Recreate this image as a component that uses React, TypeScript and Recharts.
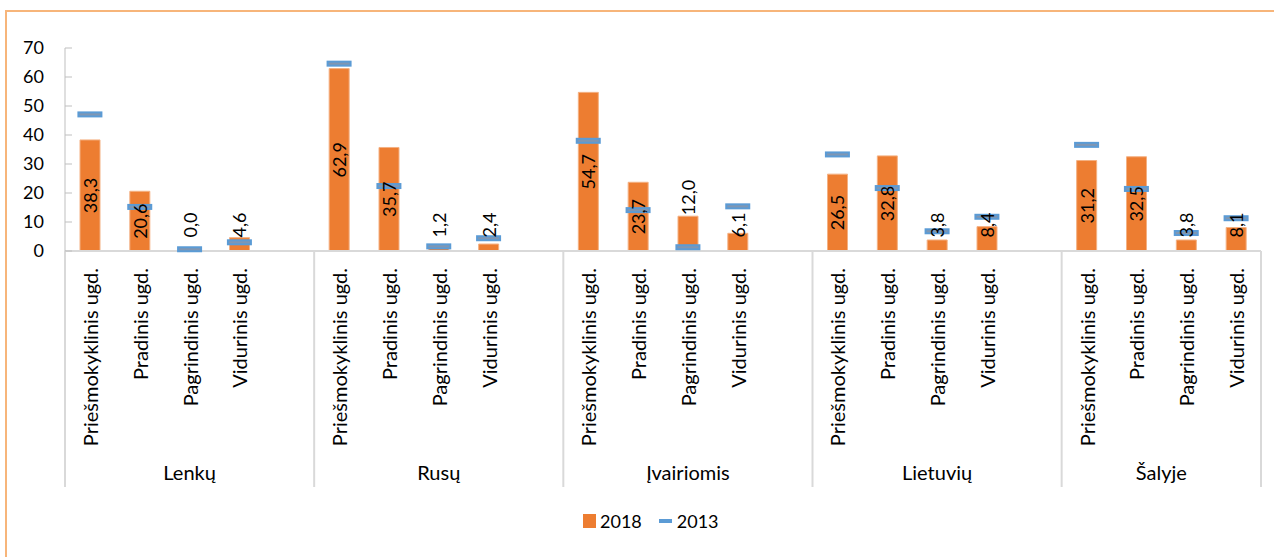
import React from 'react';
import { ComposedChart, Bar, Line, XAxis, YAxis, Legend } from 'recharts';

// ---- data ----
const groups = ['Lenkų', 'Rusų', 'Įvairiomis', 'Lietuvių', 'Šalyje'];
const levels = ['Priešmokyklinis ugd.', 'Pradinis ugd.', 'Pagrindinis ugd.', 'Vidurinis ugd.'];
const yTicks = [0, 10, 20, 30, 40, 50, 60, 70];

const lenku2018 = [38.3, 20.6, 0.0, 4.6];
const rusu2018 = [62.9, 35.7, 1.2, 2.4];
const ivairiomis2018 = [54.7, 23.7, 12.0, 6.1];
const lietuviu2018 = [26.5, 32.8, 3.8, 8.4];
const salyje2018 = [31.2, 32.5, 3.8, 8.1];

const lenku2013 = [47.1, 15.2, 0.6, 3.0];
const rusu2013 = [64.6, 22.4, 1.6, 4.4];
const ivairiomis2013 = [38.0, 14.1, 1.3, 15.4];
const lietuviu2013 = [33.3, 21.7, 6.8, 11.8];
const salyje2013 = [36.6, 21.4, 6.2, 11.3];

const series2018 = [lenku2018, rusu2018, ivairiomis2018, lietuviu2018, salyje2018];
const series2013 = [lenku2013, rusu2013, ivairiomis2013, lietuviu2013, salyje2013];

type Row = { key: string; slot: number; group: number; v2018: number | null; v2013: number | null };
const rows: Row[] = [];
groups.forEach((g, gi) => {
  levels.forEach((l, li) => {
    rows.push({ key: `${g}|${l}`, slot: li, group: gi, v2018: series2018[gi][li], v2013: series2013[gi][li] });
  });
  if (gi < groups.length - 1) rows.push({ key: `${g}|gap`, slot: 4, group: gi, v2018: null, v2013: null });
});

// ---- layout / style ----
const W = 1274;
const H = 557;
const TOP = 48;
const XAXIS_H = 306;
const PLOT_LEFT = 65;
const PLOT_RIGHT = 1261;
const PLOT_BOTTOM = H - XAXIS_H;
const SLOT = (PLOT_RIGHT - PLOT_LEFT) / rows.length;
const FONT = 'Lato, "Open Sans", sans-serif';
const ORANGE = '#ED7D31';
const BLUE = '#5B9BD5';
const GRID = '#D9D9D9';

const fmt = (v: number) => v.toFixed(1).replace('.', ',');

const YTick = (props: any) => {
  const { x, y, payload } = props;
  return (
    <g>
      <line x1={x + 21} x2={x + 28} y1={y} y2={y} stroke="#BFBFBF" strokeWidth={1} />
      <text x={x} y={y} dy="0.35em" textAnchor="end" fontSize={18} fontFamily={FONT} fill="#000">
        {payload.value}
      </text>
    </g>
  );
};

const XTick = (props: any) => {
  const { x, y, payload } = props;
  const idx: number = payload?.index ?? props.index ?? 0;
  const row = rows[idx];
  if (!row) return null;
  const els: React.ReactNode[] = [];
  if (row.slot < 4) {
    const ty = y + 17;
    els.push(
      <text
        key="t"
        x={x}
        y={ty}
        transform={`rotate(-90, ${x}, ${ty})`}
        textAnchor="end"
        dominantBaseline="central"
        fontSize={20}
        fontFamily={FONT}
        fill="#000"
      >
        {levels[row.slot]}
      </text>
    );
  }
  if (row.slot === 0) {
    const left = x - SLOT / 2;
    const n = row.group < groups.length - 1 ? 5 : 4;
    els.push(<line key="d" x1={left} x2={left} y1={y} y2={y + 236} stroke={GRID} strokeWidth={2} />);
    els.push(
      <text key="g" x={left + (n * SLOT) / 2} y={y + 229} textAnchor="middle" fontSize={20} fontFamily={FONT} fill="#000">
        {groups[row.group]}
      </text>
    );
  }
  if (idx === rows.length - 1) {
    const right = x + SLOT / 2;
    els.push(<line key="r" x1={right} x2={right} y1={y} y2={y + 236} stroke={GRID} strokeWidth={2} />);
  }
  return <g>{els}</g>;
};

// data label for the 2018 bars, drawn at each bar's top point
const BarLabelDot = (props: any) => {
  const { cx, cy, value } = props;
  if (value === null || value === undefined || cx == null || cy == null) return <g />;
  const text = fmt(Number(value));
  const digits = text.replace(',', '').length;
  const L = digits * 10.4 + 4.2;
  const base = PLOT_BOTTOM;
  const height = base - cy;
  let ly: number;
  if (height >= L + 6) ly = cy + height / 2;
  else if (cy < base - 30) ly = cy - L / 2 - 1;
  else ly = Math.min(cy + height / 2, base - 26);
  return (
    <text
      x={cx}
      y={ly}
      transform={`rotate(-90, ${cx}, ${ly})`}
      textAnchor="middle"
      dominantBaseline="central"
      fontSize={18}
      fontFamily={FONT}
      fill="#000"
    >
      {text}
    </text>
  );
};

const Dash = (props: any) => {
  const { cx, cy, value } = props;
  if (value === null || value === undefined || cx == null || cy == null) return <g />;
  return <rect x={cx - 11.5} y={cy - 2} width={23} height={4} fill="#7F96B3" stroke={BLUE} strokeWidth={2} />;
};

const LegendContent = () => (
  <div style={{ display: 'flex', alignItems: 'center', fontFamily: FONT, fontSize: 18, color: '#000', whiteSpace: 'nowrap' }}>
    <span style={{ display: 'inline-block', width: 13, height: 14, background: ORANGE, marginRight: 4 }} />
    <span style={{ marginRight: 17 }}>2018</span>
    <span style={{ display: 'inline-block', width: 13, height: 4, background: BLUE, marginRight: 5 }} />
    <span>2013</span>
  </div>
);

export default function App() {
  return (
    <div style={{ position: 'absolute', left: 0, top: 0, width: W, height: H, overflow: 'hidden', background: '#fff' }}>
      <div
        style={{
          position: 'absolute',
          left: 5,
          top: 10,
          width: W + 40,
          height: H + 40,
          border: '2px solid #F7B57A',
          boxSizing: 'border-box',
        }}
      />
      <div style={{ position: 'absolute', left: 0, top: 0 }}>
        <ComposedChart width={W} height={H} data={rows} margin={{ top: TOP, right: W - PLOT_RIGHT, bottom: 0, left: 15 }}>
          <XAxis
            dataKey="key"
            interval={0}
            tickLine={false}
            tickSize={0}
            tickMargin={0}
            axisLine={{ stroke: GRID, strokeWidth: 2 }}
            height={XAXIS_H}
            tick={<XTick />}
          />
          <YAxis
            domain={[0, 70]}
            ticks={yTicks}
            width={50}
            tickLine={false}
            tickSize={0}
            tickMargin={21}
            axisLine={{ stroke: '#BFBFBF', strokeWidth: 1 }}
            tick={<YTick />}
          />
          <Legend
            layout="horizontal"
            verticalAlign="middle"
            align="center"
            content={<LegendContent />}
            wrapperStyle={{ left: 583, top: 510, width: 200 }}
          />
          <Bar dataKey="v2018" name="2018" fill={ORANGE} stroke="#F4B183" strokeWidth={1} barSize={20} isAnimationActive={false} />
          <Line
            dataKey="v2013"
            name="2013"
            stroke="none"
            dot={<Dash />}
            activeDot={false}
            isAnimationActive={false}
          />
          <Line
            dataKey="v2018"
            name="2018 labels"
            legendType="none"
            stroke="none"
            dot={<BarLabelDot />}
            activeDot={false}
            isAnimationActive={false}
          />
        </ComposedChart>
      </div>
    </div>
  );
}
